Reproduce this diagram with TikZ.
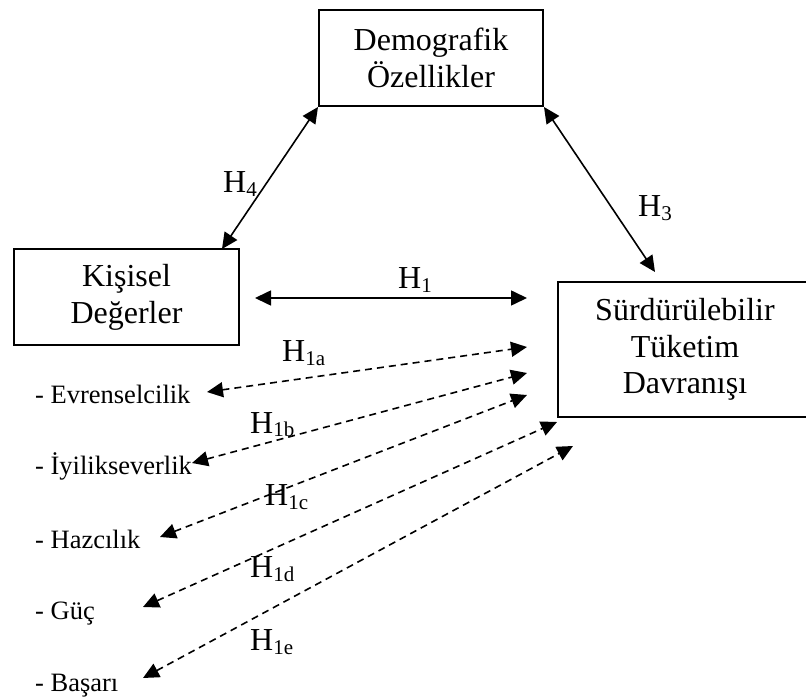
\documentclass[tikz,border=0pt]{standalone}
\usepackage{fontspec}
\setmainfont{Liberation Serif}
\usetikzlibrary{arrows.meta}
% hypothesis label: H with a lowered, smaller index
\newcommand\hyp[1]{H\raisebox{-4pt}{\fontsize{21}{21}\selectfont #1}}
\begin{document}
\begin{tikzpicture}[x=1pt,y=-1pt,
  box/.style={draw, line width=2pt, inner sep=0pt, align=center,
    font=\fontsize{32}{36.8}\selectfont},
  link/.style={line width=1.6pt,
    {Triangle[length=16pt,width=15pt]}-{Triangle[length=16pt,width=15pt]}},
  dlink/.style={link, dash pattern=on 7pt off 5pt},
  hlab/.style={anchor=base west, inner sep=0pt, font=\fontsize{32}{36.8}\selectfont},
  item/.style={anchor=base west, inner sep=0pt, font=\fontsize{26.5}{30}\selectfont}]
\useasboundingbox (0,0) rectangle (806,700);

% constructs
\node[box, minimum width=224pt, minimum height=96pt] (dem) at (431,58) {Demografik\\Özellikler};
\node[box, minimum width=225pt, minimum height=96pt] (kis) at (126.5,297) {Kişisel\\Değerler};
\node[box, minimum width=254pt, minimum height=135pt] (std) at (685,349.5) {Sürdürülebilir\\Tüketim\\Davranışı};

% value dimensions
\node[item] (ev) at (35,403) {- Evrenselcilik};
\node[item] (iy) at (35,475) {- İyilikseverlik};
\node[item] (hz) at (35,548) {- Hazcılık};
\node[item] (gu) at (35,619) {- Güç};
\node[item] (bs) at (35,691) {- Başarı};

% arrow end points
\coordinate (h4e) at (222,249);
\coordinate (h3e) at (655,272);
\coordinate (h1l) at (255,298);
\coordinate (h1r) at (527,298);
\coordinate (aL) at (207,392); \coordinate (aR) at (527,347);
\coordinate (bL) at (192,463); \coordinate (bR) at (527,373);
\coordinate (cL) at (160,537); \coordinate (cR) at (527,395);
\coordinate (dL) at (143,607); \coordinate (dR) at (557,422);
\coordinate (eL) at (143,678); \coordinate (eR) at (573,446);

% relations
\draw[link] (dem.south west) -- (h4e);
\draw[link] (dem.south east) -- (h3e);
\draw[link] (h1l) -- (h1r);
\draw[dlink] (aL) -- (aR);
\draw[dlink] (bL) -- (bR);
\draw[dlink] (cL) -- (cR);
\draw[dlink] (dL) -- (dR);
\draw[dlink] (eL) -- (eR);

% hypothesis labels
\node[hlab] (l4) at (223,193) {\hyp{4}};
\node[hlab] (l3) at (638,217) {\hyp{3}};
\node[hlab] (l1) at (398,289) {\hyp{1}};
\node[hlab] (l1a) at (282,362) {\hyp{1a}};
\node[hlab] (l1b) at (250,433) {\hyp{1b}};
\node[hlab] (l1c) at (265,505) {\hyp{1c}};
\node[hlab] (l1d) at (250,577) {\hyp{1d}};
\node[hlab] (l1e) at (250,650) {\hyp{1e}};
\end{tikzpicture}
\end{document}
